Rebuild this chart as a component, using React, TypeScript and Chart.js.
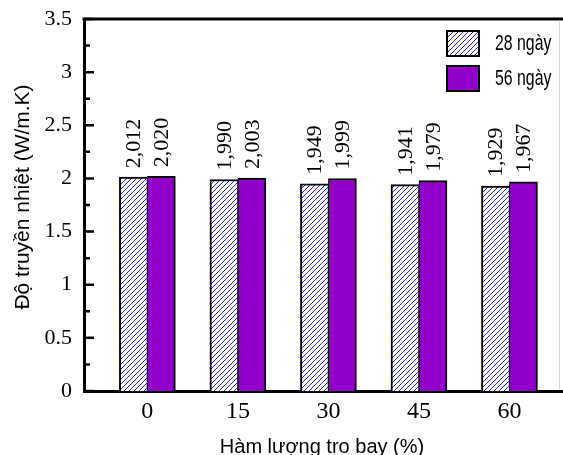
import React, { useEffect, useRef } from "react";
import { Chart, registerables } from "chart.js";

Chart.register(...registerables);

const categories = [0, 15, 30, 45, 60];
const categoryLabels = ["0", "15", "30", "45", "60"];
const series28 = [2.012, 1.99, 1.949, 1.941, 1.929];
const series56 = [2.02, 2.003, 1.999, 1.979, 1.967];
const seriesNames = ["28 ngày", "56 ngày"];
const yMajorTicks = [0, 0.5, 1, 1.5, 2, 2.5, 3, 3.5];
const yMinorTicks = [0.25, 0.75, 1.25, 1.75, 2.25, 2.75, 3.25];
const xTitle = "Hàm lượng tro bay (%)";
const yTitle = "Độ truyền nhiệt (W/m.K)";

const PURPLE = "#9300C9";
const HATCH_BLUE = "#1f1fff";
const SANS = "'Liberation Sans', Arial, sans-serif";
const SERIF = "'Liberation Serif', 'Times New Roman', serif";

function makeHatch(): CanvasPattern | string {
  const c = document.createElement("canvas");
  c.width = 5;
  c.height = 5;
  const g = c.getContext("2d");
  if (!g) return "#fff";
  g.fillStyle = "#ffffff";
  g.fillRect(0, 0, 5, 5);
  g.strokeStyle = HATCH_BLUE;
  g.lineWidth = 1;
  g.beginPath();
  g.moveTo(-1, 6);
  g.lineTo(6, -1);
  g.moveTo(-1, 1);
  g.lineTo(1, -1);
  g.moveTo(4, 6);
  g.lineTo(6, 4);
  g.stroke();
  return g.createPattern(c, "repeat") || "#fff";
}

const fmt = (v: number) => v.toFixed(3).replace(".", ",");

export default function App() {
  const ref = useRef<HTMLCanvasElement | null>(null);

  useEffect(() => {
    if (!ref.current) return;
    const hatch = makeHatch();

    const decorPlugin = {
      id: "decor",
      afterDatasetsDraw(chart: any) {
        const ctx = chart.ctx;
        ctx.save();
        ctx.fillStyle = "#000";
        ctx.font = `22px ${SERIF}`;
        chart.data.datasets.forEach((ds: any, i: number) => {
          const meta = chart.getDatasetMeta(i);
          meta.data.forEach((el: any, j: number) => {
            const v = (ds.data[j] as any).y;
            ctx.save();
            ctx.translate(el.x, el.y - 9);
            ctx.rotate(-Math.PI / 2);
            ctx.textAlign = "left";
            ctx.textBaseline = "middle";
            ctx.fillText(fmt(v), 0, 1);
            ctx.restore();
          });
        });
        ctx.restore();
      },
      afterDraw(chart: any) {
        const ctx = chart.ctx;
        const area = chart.chartArea;
        const ys = chart.scales.y;
        ctx.save();
        ctx.strokeStyle = "#000";
        ctx.lineWidth = 3;
        ctx.beginPath();
        ctx.moveTo(area.left - 1.5, area.top);
        ctx.lineTo(area.right, area.top);
        ctx.stroke();
        ctx.strokeStyle = "#d8d8d8";
        ctx.lineWidth = 1;
        ctx.beginPath();
        ctx.moveTo(559.5, area.top + 1.5);
        ctx.lineTo(559.5, area.bottom - 1.5);
        ctx.stroke();
        ctx.strokeStyle = "#000";
        ctx.lineWidth = 2.5;
        ctx.beginPath();
        yMajorTicks.forEach((v) => {
          const y = ys.getPixelForValue(v);
          ctx.moveTo(area.left, y);
          ctx.lineTo(area.left + 10, y);
        });
        yMinorTicks.forEach((v) => {
          const y = ys.getPixelForValue(v);
          ctx.moveTo(area.left, y);
          ctx.lineTo(area.left + 6, y);
        });
        ctx.stroke();

        const fills = [hatch, PURPLE];
        const bx = area.left + 363;
        fills.forEach((f, i) => {
          const by = 31 + i * 35;
          ctx.fillStyle = f as any;
          ctx.fillRect(bx, by, 32, 25);
          ctx.strokeStyle = "#000";
          ctx.lineWidth = 2;
          ctx.strokeRect(bx, by, 32, 25);
          ctx.save();
          ctx.fillStyle = "#000";
          ctx.font = `22px ${SANS}`;
          ctx.textAlign = "left";
          ctx.textBaseline = "middle";
          ctx.translate(bx + 48, by + 13);
          ctx.scale(0.72, 1);
          ctx.fillText(seriesNames[i], 0, 0);
          ctx.restore();
        });

        ctx.fillStyle = "#000";
        ctx.font = `20px ${SANS}`;
        ctx.textAlign = "center";
        ctx.textBaseline = "alphabetic";
        ctx.fillText(xTitle, 322, 453);

        ctx.save();
        ctx.translate(29, 197);
        ctx.rotate(-Math.PI / 2);
        ctx.font = `21px ${SANS}`;
        ctx.textAlign = "center";
        ctx.textBaseline = "alphabetic";
        ctx.fillText(yTitle, 0, 0);
        ctx.restore();

        ctx.restore();
      },
    };

    const chart = new Chart(ref.current, {
      type: "bar",
      data: {
        datasets: [
          {
            label: seriesNames[0],
            data: categories.map((c, i) => ({ x: c, y: series28[i] })),
            backgroundColor: hatch as any,
            borderColor: "#000",
            borderWidth: { left: 2, top: 2, right: 1, bottom: 0 },
            barThickness: 28,
          },
          {
            label: seriesNames[1],
            data: categories.map((c, i) => ({ x: c, y: series56[i] })),
            backgroundColor: PURPLE,
            borderColor: "#000",
            borderWidth: { left: 1, top: 2, right: 2, bottom: 0 },
            barThickness: 28,
          },
        ],
      },
      options: {
        animation: false,
        responsive: false,
        layout: { padding: { top: 19, left: 0, right: 0, bottom: 0 } },
        plugins: {
          legend: { display: false },
          tooltip: { enabled: false },
        },
        scales: {
          x: {
            type: "linear",
            offset: false,
            min: -10.5,
            max: 75,
            afterBuildTicks: (s: any) => {
              s.ticks = categories.map((v) => ({ value: v }));
            },
            afterFit: (s: any) => {
              s.height = 64;
              s.paddingLeft = 0;
              s.paddingRight = 0;
            },
            grid: { display: false, drawTicks: false },
            border: { display: true, color: "#000", width: 3 },
            ticks: {
              autoSkip: false,
              maxRotation: 0,
              padding: 6,
              color: "#000",
              font: { family: SERIF, size: 24 },
              callback: (v: any) => {
                const k = categories.indexOf(Number(v));
                return k >= 0 ? categoryLabels[k] : "";
              },
            },
          },
          y: {
            min: 0,
            max: 3.5,
            afterBuildTicks: (s: any) => {
              s.ticks = yMajorTicks.map((v) => ({ value: v }));
            },
            afterFit: (s: any) => {
              s.width = 84;
              s.paddingTop = 0;
              s.paddingBottom = 0;
            },
            grid: { display: false, drawTicks: false },
            border: { display: true, color: "#000", width: 3 },
            ticks: {
              padding: 12,
              color: "#000",
              font: { family: SERIF, size: 22, lineHeight: 1 },
              callback: (v: any) => String(v),
            },
          },
        },
      },
      plugins: [decorPlugin],
    } as any);

    return () => chart.destroy();
  }, []);

  return (
    <div
      style={{
        position: "absolute",
        left: 0,
        top: 0,
        width: 563,
        height: 455,
        overflow: "hidden",
        background: "#fff",
      }}
    >
      <canvas ref={ref} width={600} height={455} />
    </div>
  );
}
